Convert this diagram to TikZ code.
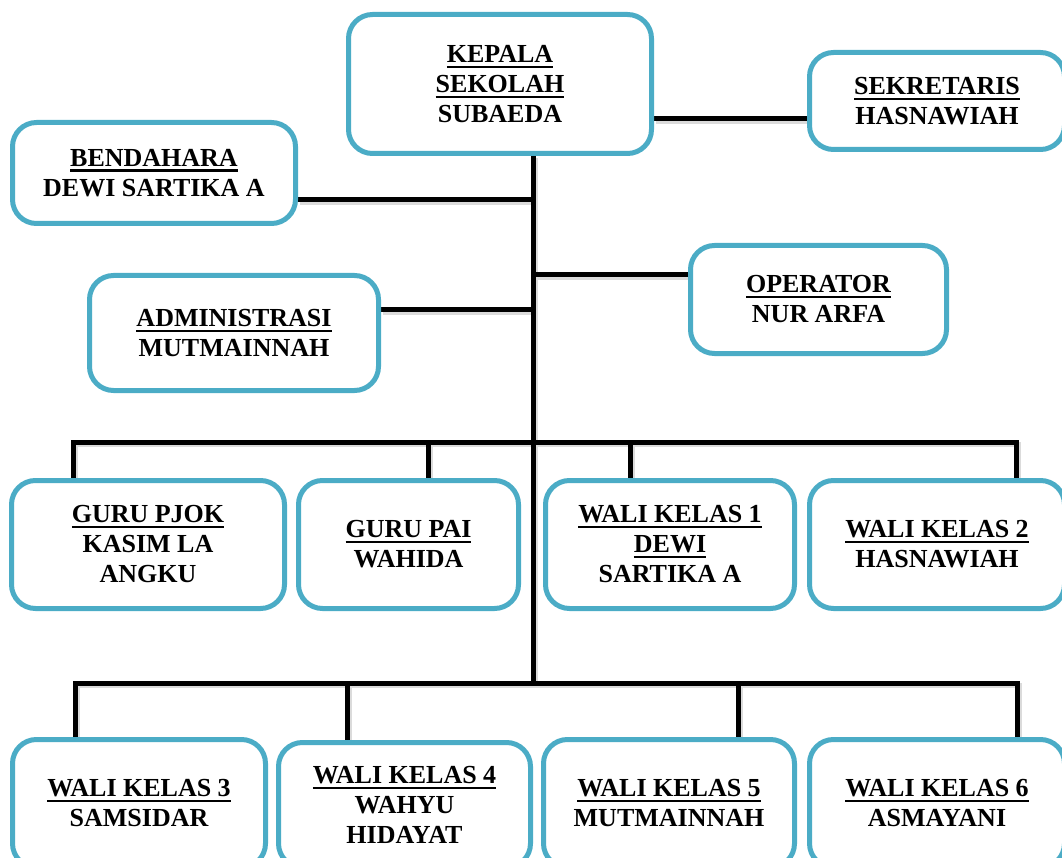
\documentclass[tikz,border=0pt]{standalone}
\usepackage{fontspec}
\setmainfont{Liberation Serif}
\usetikzlibrary{backgrounds}
\definecolor{boxblue}{RGB}{75,172,198}
\newcommand\ttl[1]{\setbox0\hbox{#1}\leavevmode\rlap{\rule[-5.5pt]{\wd0}{2.4pt}}\box0}
\begin{document}
\begin{tikzpicture}[x=1pt,y=-1pt,
  box/.style={draw=boxblue, line width=5pt, rounded corners=24pt, fill=white,
    align=center, font=\fontsize{26}{30}\selectfont\bfseries, inner sep=0pt},
  conn/.style={line width=5pt, black, line join=miter},
  connshadow/.style={line width=5pt, black!14, line join=miter,
    transform canvas={shift={(2pt,-2.5pt)}}}]
\useasboundingbox (0,0) rectangle (1062,858);
\clip (0,0) rectangle (1062,858);
% top part
\node[box, minimum width=303pt, minimum height=139pt] (kepala) at (500,84)
  {\ttl{KEPALA}\\\ttl{SEKOLAH}\\SUBAEDA};
\node[box, minimum width=255pt, minimum height=97pt] (sekretaris) at (937,101)
  {\ttl{SEKRETARIS}\\HASNAWIAH};
\node[box, minimum width=283pt, minimum height=101pt] (bendahara) at (154,173)
  {\ttl{BENDAHARA}\\DEWI SARTIKA A};
\node[box, minimum width=256pt, minimum height=108pt] (operator) at (818.5,299.5)
  {\ttl{OPERATOR}\\NUR ARFA};
\node[box, minimum width=289pt, minimum height=115pt] (admin) at (234,333)
  {\ttl{ADMINISTRASI}\\MUTMAINNAH};
% row 1
\node[box, minimum width=273pt, minimum height=128pt] (pjok) at (148,544.5)
  {\ttl{GURU PJOK}\\KASIM LA\\ANGKU};
\node[box, minimum width=220pt, minimum height=128pt] (pai) at (408.5,544.5)
  {\ttl{GURU PAI}\\WAHIDA};
\node[box, minimum width=249pt, minimum height=128pt] (wk1) at (670,544.5)
  {\ttl{WALI KELAS 1}\\\ttl{DEWI}\\SARTIKA A};
\node[box, minimum width=255pt, minimum height=128pt] (wk2) at (937,544.5)
  {\ttl{WALI KELAS 2}\\HASNAWIAH};
% row 2
\node[box, minimum width=253pt, minimum height=128pt] (wk3) at (139,803.5)
  {\ttl{WALI KELAS 3}\\SAMSIDAR};
\node[box, minimum width=252pt, minimum height=125pt] (wk4) at (404.5,805)
  {\ttl{WALI KELAS 4}\\WAHYU\\HIDAYAT};
\node[box, minimum width=251pt, minimum height=128pt] (wk5) at (669,803.5)
  {\ttl{WALI KELAS 5}\\MUTMAINNAH};
\node[box, minimum width=255pt, minimum height=128pt] (wk6) at (937,803.5)
  {\ttl{WALI KELAS 6}\\ASMAYANI};
\coordinate (j1) at (533,442);
\coordinate (j2) at (533,683);
\begin{scope}[on background layer]
\foreach \s in {connshadow, conn} {
  % trunk
  \draw[\s] (kepala.south -| j2) -- (j2);
  % side branches
  \draw[\s] ([yshift=-18pt]sekretaris.west) -- ([yshift=-18pt]sekretaris.west -| kepala.east);
  \draw[\s] ([yshift=-27pt]bendahara.east) -- ([yshift=-27pt]bendahara.east -| j2);
  \draw[\s] ([yshift=24.5pt]operator.west) -- ([yshift=24.5pt]operator.west -| j2);
  \draw[\s] ([yshift=23pt]admin.east) -- ([yshift=23pt]admin.east -| j2);
  % row 1 bar
  \draw[\s] ([xshift=-75pt]pjok.north) -- ([xshift=-75pt]pjok.north |- j1)
     -- ([xshift=79pt]wk2.north |- j1) -- ([xshift=79pt]wk2.north);
  \draw[\s] ([xshift=19.5pt]pai.north) -- ([xshift=19.5pt]pai.north |- j1);
  \draw[\s] ([xshift=-40pt]wk1.north) -- ([xshift=-40pt]wk1.north |- j1);
  % row 2 bar
  \draw[\s] ([xshift=-64pt]wk3.north) -- ([xshift=-64pt]wk3.north |- j2)
     -- ([xshift=80pt]wk6.north |- j2) -- ([xshift=80pt]wk6.north);
  \draw[\s] ([xshift=-57.5pt]wk4.north) -- ([xshift=-57.5pt]wk4.north |- j2);
  \draw[\s] ([xshift=69pt]wk5.north) -- ([xshift=69pt]wk5.north |- j2);
}
\end{scope}
\end{tikzpicture}
\end{document}
